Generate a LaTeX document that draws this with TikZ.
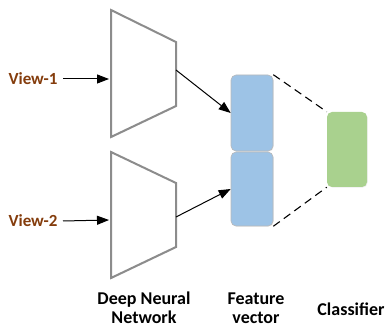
\documentclass[tikz,border=0pt]{standalone}
\usepackage{fontspec}
\setmainfont{Carlito}
\usetikzlibrary{arrows.meta,positioning,shadows}
\definecolor{viewbrown}{HTML}{843C0C}
\definecolor{featblue}{HTML}{9DC3E6}
\definecolor{clsgreen}{HTML}{A9D18E}

\begin{document}
\begin{tikzpicture}[x=1pt, y=-1pt,
    net/.style={draw=gray!90, line width=2pt, fill=white, line join=miter,
        drop shadow={shadow xshift=0.8pt, shadow yshift=-0.8pt, opacity=0.2}},
    feat/.style={rectangle, rounded corners=5pt, draw=gray!55, line width=0.6pt,
        fill=featblue, minimum width=42pt, inner sep=0pt,
        drop shadow={shadow xshift=0.6pt, shadow yshift=-0.6pt, opacity=0.2}},
    cls/.style={rectangle, rounded corners=5pt, draw=none, fill=clsgreen,
        minimum width=40pt, minimum height=75pt, inner sep=0pt,
        drop shadow={shadow xshift=0.6pt, shadow yshift=-0.6pt, opacity=0.15}},
    view/.style={text=viewbrown, font=\bfseries\fontsize{17}{20}\selectfont},
    caption/.style={align=center, font=\bfseries\fontsize{18}{19}\selectfont},
    feed/.style={-{Triangle[length=12pt,width=9pt]}, line width=1pt},
    link/.style={dash pattern=on 8pt off 5pt, line width=1.1pt}
]
\useasboundingbox (0,0) rectangle (386,326);

% RETI NEURALI (trapezi)
\draw[net] (111,10) -- (176,42) -- (176,106) -- (111,137) -- cycle;
\coordinate (in1) at (109,79);
\coordinate (out1) at (176,70);
\draw[net] (111,152) -- (176,183) -- (176,247) -- (111,278) -- cycle;
\coordinate (in2) at (109,220);
\coordinate (out2) at (176,217);

% VISTE
\node[view] (view1) at (33,79) {View-1};
\node[view] (view2) at (33,221) {View-2};
\draw[feed] (view1.east) ++(2,0) coordinate (v1) (v1) -- (in1);
\draw[feed] (view2.east) ++(2,0) coordinate (v2) (v2) -- (in2);

% VETTORE DELLE FEATURE
\node[feat, minimum height=76pt] (feat1) at (252,113) {};
\node[feat, minimum height=74pt] (feat2) at (252,189) {};
\draw[feed] (out1) -- (feat1.west);
\draw[feed] (out2) -- (feat2.west);

% CLASSIFICATORE
\node[cls] (cls) at (347,149.5) {};
\draw[link] (feat1.north east) -- (cls.north west);
\draw[link] (feat2.south east) -- (cls.south west);

% DIDASCALIE
\node[caption] (capnet) at (144,308) {Deep Neural\\Network};
\node[caption] (capfeat) at (256,308) {Feature\\vector};
\node[caption] (capcls) at (351,309) {Classifier};

\end{tikzpicture}
\end{document}
